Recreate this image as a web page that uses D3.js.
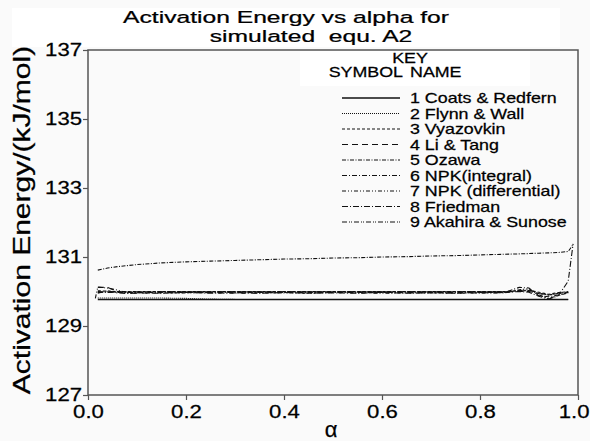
<!DOCTYPE html>
<html>
<head>
<meta charset="utf-8">
<script src="https://cdn.jsdelivr.net/npm/d3@7"></script>
<style>
  body { margin: 0; background: #fafafa; }
  svg { display: block; font-family: "Liberation Sans", Arial, sans-serif; }
  svg text { stroke: #000; stroke-width: 0.25; }
</style>
</head>
<body>
<svg id="chart" width="590" height="441"></svg>
<script>
// conversion points (alpha) shared by all methods
var alpha = [0.015, 0.02, 0.04, 0.06, 0.08, 0.1, 0.15, 0.2, 0.25, 0.3, 0.35, 0.4, 0.45, 0.5,
             0.55, 0.6, 0.65, 0.7, 0.75, 0.8, 0.85, 0.88, 0.9, 0.92, 0.94, 0.96, 0.98, 0.99];

// activation energy, kJ/mol, one array per method (null = not plotted)
var coatsRedfern = [null, 129.77, 129.77, 129.77, 129.77, 129.77, 129.77, 129.77, 129.77, 129.77, 129.77, 129.77, 129.77, 129.77,
                    129.77, 129.77, 129.77, 129.77, 129.77, 129.77, 129.77, 129.77, 129.77, 129.77, 129.77, 129.77, 129.77, null];
var flynnWall    = [null, 129.81, 129.81, 129.81, 129.81, 129.81, 129.81, 129.8, 129.78, 129.77, 129.77, 129.77, 129.77, 129.77,
                    129.77, 129.77, 129.77, 129.77, 129.77, 129.77, 129.77, 129.77, 129.77, 129.77, 129.77, 129.77, 129.77, null];
var vyazovkin    = [null, 130.02, 130.01, 130.0, 130.0, 130.0, 130.0, 130.0, 130.0, 130.0, 130.0, 130.0, 130.0, 130.0,
                    130.0, 130.0, 130.0, 130.0, 130.0, 130.0, 130.0, 130.02, 130.03, 129.98, 129.92, 129.97, 129.99, null];
var liTang       = [null, 130.12, 130.12, 130.0, 129.98, 129.98, 129.99, 129.99, 129.99, 129.99, 129.99, 129.99, 129.99, 129.99,
                    129.99, 129.99, 129.99, 129.99, 129.99, 129.99, 129.99, 130.0, 130.0, 129.94, 129.9, 129.95, 129.98, null];
var ozawa        = [null, 130.62, 130.68, 130.72, 130.75, 130.78, 130.83, 130.86, 130.88, 130.9, 130.92, 130.94, 130.95, 130.97,
                    130.98, 131.0, 131.01, 131.03, 131.04, 131.06, 131.08, 131.09, 131.1, 131.11, 131.12, 131.13, 131.16, 131.36];
var npkIntegral  = [null, 129.97, 129.97, 129.97, 129.97, 129.97, 129.97, 129.97, 129.97, 129.97, 129.97, 129.97, 129.97, 129.97,
                    129.97, 129.97, 129.97, 129.97, 129.97, 129.97, 129.97, 130.12, 130.1, 129.88, 129.85, 129.9, 129.97, null];
var npkDiff      = [129.8, 130.13, 130.1, 130.04, 129.96, 129.95, 129.96, 129.96, 129.97, 129.95, 129.96, 129.96, 129.95, 129.97,
                    129.96, 129.95, 129.96, 129.96, 129.95, 129.96, 129.96, 130.05, 130.08, 129.9, 129.8, 129.88, 129.96, null];
var friedman     = [null, 129.95, 130.02, 129.96, 129.94, 129.96, 129.95, 129.97, 129.95, 129.96, 129.95, 129.97, 129.95, 129.96,
                    129.95, 129.97, 129.95, 129.96, 129.95, 129.96, 129.97, 130.0, 129.98, 129.86, 129.78, 129.88, 130.3, 131.38];
var akahira      = [null, 130.0, 129.99, 129.99, 129.99, 129.99, 129.99, 129.99, 129.99, 129.99, 129.99, 129.99, 129.99, 129.99,
                    129.99, 129.99, 129.99, 129.99, 129.99, 129.99, 129.99, 130.03, 130.04, 129.95, 129.9, 129.94, 129.99, null];

var methodNames = ['1 Coats & Redfern', '2 Flynn & Wall', '3 Vyazovkin', '4 Li & Tang', '5 Ozawa',
                   '6 NPK(integral)', '7 NPK (differential)', '8 Friedman', '9 Akahira & Sunose'];
var yTicks = [127, 129, 131, 133, 135, 137];
var xTicks = [0, 0.2, 0.4, 0.6, 0.8, 1.0];

var seriesValues = [coatsRedfern, flynnWall, vyazovkin, liTang, ozawa, npkIntegral, npkDiff, friedman, akahira];
var dashes = [null, '1,1', '3,2', '6,4', '4,1.5,1,1.5', '5,2,1,2', '4,2,1,2,1,2', '6,2,1,2', '5,2,1,1,1,2'];

var svg = d3.select('#chart');

// the fonts in the source are wider than arial, stretch them a bit
var wide = 1.23;

var x = d3.scaleLinear().domain([0, 1]).range([88, 578]);
var y = d3.scaleLinear().domain([127, 137]).range([395, 50]);

// light white bands behind title and key header
svg.append('rect').attr('x', 12).attr('y', 8).attr('width', 548).attr('height', 39).attr('fill', '#fff');
svg.append('rect').attr('x', 300).attr('y', 51).attr('width', 230).attr('height', 35).attr('fill', '#fff');

// title
var title = [
	{ text: 'Activation Energy vs alpha for', cx: 286, y: 23 },
	{ text: 'simulated  equ. A2', cx: 311, y: 42 }
];
title.forEach(function(t) {
	svg.append('text')
		.attr('transform', 'translate(' + t.cx + ',' + t.y + ') scale(1.45,1)')
		.attr('text-anchor', 'middle')
		.attr('font-size', 17)
		.attr('fill', '#000')
		.style('white-space', 'pre')
		.text(t.text);
});

// series
var line = d3.line()
	.defined(function(d) { return d[1] !== null; })
	.x(function(d) { return x(d[0]); })
	.y(function(d) { return y(d[1]); });

seriesValues.forEach(function(vals, i) {
	svg.append('path')
		.datum(alpha.map(function(a, j) { return [a, vals[j]]; }))
		.attr('d', line)
		.attr('fill', 'none')
		.attr('stroke', '#111')
		.attr('stroke-width', i === 0 ? 1.6 : 1.1)
		.attr('stroke-dasharray', dashes[i]);
});

// frame
svg.append('rect')
	.attr('x', x(0)).attr('y', y(137))
	.attr('width', x(1) - x(0)).attr('height', y(127) - y(137))
	.attr('fill', 'none')
	.attr('stroke', '#555')
	.attr('stroke-width', 1.5);

// axes
var yAxis = svg.append('g')
	.attr('transform', 'translate(' + x(0) + ',0)')
	.call(d3.axisLeft(y).tickValues(yTicks).tickSize(5).tickPadding(1).tickFormat(d3.format('d')));

var xAxis = svg.append('g')
	.attr('transform', 'translate(0,' + y(127) + ')')
	.call(d3.axisBottom(x).tickValues(xTicks).tickSize(5).tickPadding(5).tickFormat(d3.format('.1f')));

[yAxis, xAxis].forEach(function(ax) {
	ax.select('.domain').remove();
	ax.selectAll('line').attr('stroke', '#555').attr('stroke-width', 1.2);
	ax.selectAll('text')
		.attr('font-size', 18)
		.attr('fill', '#000')
		.attr('font-family', '"Liberation Sans", Arial, sans-serif');
});
yAxis.selectAll('text').attr('transform', 'scale(' + wide + ',1)').attr('x', -6 / wide);
xAxis.selectAll('text').attr('transform', 'scale(' + wide + ',1)');
// last label sits at the window edge, keep it inside
xAxis.selectAll('.tick:last-of-type text')
	.attr('text-anchor', 'end')
	.attr('x', (589 - x(1)) / wide);

// axis titles
svg.append('text')
	.attr('transform', 'translate(30,' + 220 + ') rotate(-90) scale(1.25,1)')
	.attr('text-anchor', 'middle')
	.attr('font-size', 24)
	.attr('fill', '#000')
	.text('Activation Energy/(kJ/mol)');

svg.append('text')
	.attr('x', 331)
	.attr('y', 437)
	.attr('text-anchor', 'middle')
	.attr('font-size', 22)
	.attr('fill', '#000')
	.text('α');

// key
var key = svg.append('g').attr('font-size', 14.5).attr('fill', '#000');

key.append('text')
	.attr('transform', 'translate(410,63) scale(' + wide + ',1)')
	.attr('text-anchor', 'middle')
	.text('KEY');
key.append('text')
	.attr('transform', 'translate(403,77) scale(' + wide + ',1)')
	.attr('text-anchor', 'end')
	.text('SYMBOL');
key.append('text')
	.attr('transform', 'translate(410,77) scale(' + wide + ',1)')
	.text('NAME');

var band = d3.scalePoint()
	.domain(d3.range(methodNames.length))
	.range([103, 227]);

var keyRow = key.selectAll('.key-row')
	.data(methodNames)
	.enter()
	.append('g')
	.attr('class', 'key-row')
	.attr('transform', function(d, i) { return 'translate(0,' + band(i) + ')'; });

keyRow.append('line')
	.attr('x1', 342).attr('x2', 400)
	.attr('y1', -5).attr('y2', -5)
	.attr('stroke', '#111')
	.attr('stroke-width', function(d, i) { return i === 0 ? 1.6 : 1.1; })
	.attr('stroke-dasharray', function(d, i) { return dashes[i]; });

keyRow.append('text')
	.attr('transform', 'translate(410,0) scale(' + wide + ',1)')
	.text(function(d) { return d; });
</script>
</body>
</html>
